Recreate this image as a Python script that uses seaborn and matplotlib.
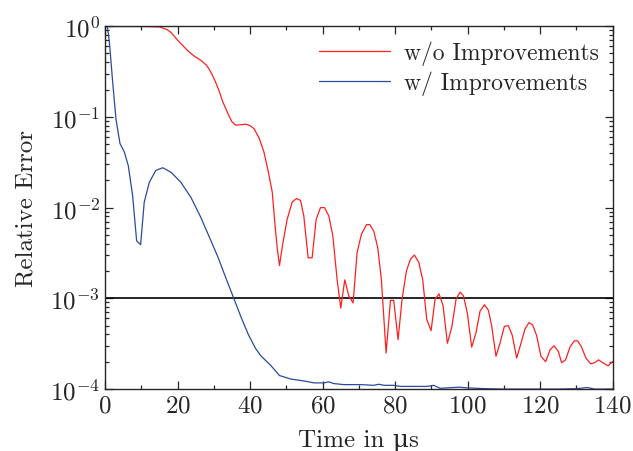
import numpy as np
import pandas as pd
import matplotlib
matplotlib.use("Agg")
import matplotlib.pyplot as plt
import seaborn as sns

# values (time in us, relative error)
t_wo = [0, 5, 10, 15, 17, 18.2, 20, 22.7, 24.5, 26.4, 28, 29.2, 30.5, 31.4, 32.5,
        34.2, 35, 36, 37.5, 38.8, 40, 41.1, 42.5, 43.8, 45, 46.1, 47, 47.5, 48.1,
        49, 50.2, 51.6, 52.8, 53.9, 54.8, 56.0, 57.1, 58.2, 59.4, 60.5, 61.7, 62.8,
        64.0, 65.0, 66.1, 67.2, 68.4, 69.5, 70.7, 72.1, 73.0, 74.1, 75.2, 76.2,
        77.5, 78.7, 79.6, 80.8, 81.9, 83.1, 84.2, 85.3, 86.5, 87.6, 88.7, 89.9,
        91.0, 92.1, 93.2, 94.4, 95.6, 96.8, 97.9, 98.8, 99.9, 101.1, 102.3, 103.4,
        104.6, 105.7, 106.6, 107.8, 108.9, 110.1, 111.2, 112.3, 113.5, 114.7,
        115.8, 116.9, 117.9, 119.0, 120.2, 121.5, 122.7, 123.8, 125.0, 125.9,
        127.0, 128.2, 129.4, 130.3, 131.4, 132.6, 133.9, 135.0, 136.1, 137.3,
        138.7, 139.6, 140.3]
err_wo = [0.99, 0.99, 0.99, 0.98, 0.92, 0.85, 0.70, 0.54, 0.47, 0.42, 0.37, 0.31,
          0.24, 0.195, 0.145, 0.102, 0.088, 0.081, 0.082, 0.083, 0.080, 0.074,
          0.058, 0.041, 0.025, 0.0148, 0.0056, 0.0035, 0.0023, 0.0040, 0.0074,
          0.0115, 0.0126, 0.0120, 0.0081, 0.0028, 0.0028, 0.0074, 0.0100, 0.0100,
          0.0081, 0.0049, 0.0016, 0.00078, 0.0016, 0.00107, 0.00089, 0.0032,
          0.0051, 0.0065, 0.0065, 0.0055, 0.0036, 0.0016, 0.00025, 0.00095,
          0.00095, 0.00035, 0.00098, 0.0020, 0.0027, 0.0030, 0.0025, 0.0016,
          0.00059, 0.00044, 0.00098, 0.00112, 0.00083, 0.00032, 0.00048, 0.00098,
          0.00117, 0.00107, 0.00069, 0.00029, 0.00042, 0.00072, 0.00085, 0.00074,
          0.00050, 0.00023, 0.00032, 0.00049, 0.00050, 0.00039, 0.00022, 0.00032,
          0.00046, 0.00054, 0.00051, 0.00039, 0.00023, 0.00020, 0.00027, 0.00030,
          0.00026, 0.000195, 0.00021, 0.00029, 0.00034, 0.00034, 0.00029, 0.00022,
          0.00019, 0.000195, 0.00021, 0.000195, 0.00018, 0.000195, 0.000205]

t_w = [0, 0.7, 1.2, 2.1, 3.0, 4.1, 5.3, 6.4, 7.6, 8.7, 9.8, 10.8, 12.2, 14.0, 15.9,
       18.2, 20.9, 23.7, 26.4, 29.2, 31.2, 33.5, 35.5, 37.5, 39.5, 41.5, 42.9,
       45.7, 48.1, 51.2, 54.8, 57.6, 60.3, 61.7, 63.1, 65.8, 70.4, 74.1, 75.5, 77,
       79.6, 81.4, 85, 88.7, 90.6, 92.4, 97.7, 100, 105, 110, 115, 120, 125, 130,
       133, 135, 140]
err_w = [1.1, 0.95, 0.66, 0.24, 0.095, 0.051, 0.041, 0.029, 0.0135, 0.0043, 0.0039,
         0.0115, 0.019, 0.0257, 0.0275, 0.0245, 0.019, 0.0129, 0.0078, 0.0043,
         0.0028, 0.0016, 0.00100, 0.00062, 0.00040, 0.00028, 0.000234, 0.000182,
         0.000141, 0.000129, 0.000123, 0.000117, 0.000117, 0.000120, 0.000115,
         0.000112, 0.000112, 0.000110, 0.000113, 0.000110, 0.000110, 0.000107,
         0.000107, 0.000107, 0.000110, 0.000102, 0.000105, 0.000103, 0.000101,
         0.0001, 0.0001, 0.0001, 0.0001, 0.000101, 0.000104, 0.0001, 0.0001]

threshold = 1e-3
labels = ["w/o Improvements", "w/ Improvements"]

df = pd.concat([
    pd.DataFrame({"t": t_wo, "err": err_wo, "case": labels[0]}),
    pd.DataFrame({"t": t_w, "err": err_w, "case": labels[1]}),
])

sns.set_style("ticks")
plt.rcParams["font.family"] = ["cmr10", "DejaVu Serif"]
plt.rcParams["mathtext.fontset"] = "cm"
plt.rcParams["axes.formatter.use_mathtext"] = True

fig = plt.figure(figsize=(6.33, 4.52), dpi=100)
ax = fig.add_axes([0.166, 0.137, 0.802, 0.803])

sns.lineplot(data=df, x="t", y="err", hue="case", sort=False,
             palette={labels[0]: "#ff1f1f", labels[1]: "#2b4aa0"},
             linewidth=0.9, ax=ax)
ax.axhline(threshold, color="black", linewidth=1.2, zorder=1)

ax.set_yscale("log")
ax.set_xlim(0, 140)
ax.set_ylim(1e-4, 1)
ax.set_xticks(np.arange(0, 141, 20))
ax.set_xticks(np.arange(0, 141, 10), minor=True)

ax.tick_params(which="both", direction="in", top=True, right=True, labelsize=18,
               width=0.9)
ax.tick_params(which="major", length=6)
ax.tick_params(which="minor", length=3)
for s in ax.spines.values():
    s.set_linewidth(1.0)

# greek mu (U+03BC) falls back to DejaVu Serif, cmr10 maps the micro sign wrongly
ax.set_xlabel("Time in \u03bcs", fontsize=18, labelpad=9)
ax.set_ylabel("Relative Error", fontsize=18, labelpad=9)

leg = ax.legend(loc="upper right", frameon=False, fontsize=17, handlelength=3.0,
                handletextpad=0.6, borderaxespad=0.2, labelspacing=0.25)

fig.savefig("out.png", dpi=100)
